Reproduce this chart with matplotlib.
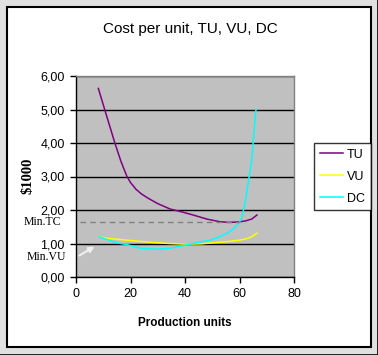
import matplotlib
matplotlib.use("Agg")
import matplotlib.pyplot as plt
from matplotlib.patches import Rectangle
from matplotlib.lines import Line2D

# ---- data ----
tu_x = [8.2, 10.6, 14.3, 16.5, 18.6, 20, 22, 24, 26.5, 30, 34.5, 39, 43, 48, 52.8, 56, 59, 62, 64.5, 66.4]
tu_y = [5.63, 4.98, 3.99, 3.45, 3.02, 2.82, 2.62, 2.48, 2.35, 2.19, 2.03, 1.94, 1.85, 1.73, 1.65, 1.63, 1.64, 1.67, 1.73, 1.85]

vu_x = [8.4, 12, 18.6, 24, 28.4, 34, 40.6, 46, 51.6, 56, 60, 62.5, 64.5, 66.4]
vu_y = [1.2, 1.15, 1.1, 1.06, 1.03, 1.0, 0.98, 0.99, 1.03, 1.06, 1.1, 1.14, 1.2, 1.31]

dc_x = [8.4, 12, 15, 18.6, 23.5, 29.7, 34.5, 39, 43, 46, 49.2, 52, 55.3, 58, 60, 60.8, 62, 63.2, 64.5, 65.3, 66, 66.2]
dc_y = [1.2, 1.1, 1.02, 0.97, 0.86, 0.83, 0.86, 0.93, 1.0, 1.05, 1.1, 1.18, 1.3, 1.45, 1.64, 1.75, 2.2, 2.8, 3.5, 4.29, 4.98, 5.0]

min_tc = 1.63
min_tc_span = [1.5, 60]

y_ticks = [0, 1, 2, 3, 4, 5, 6]
y_labels = ["0,00", "1,00", "2,00", "3,00", "4,00", "5,00", "6,00"]
x_ticks = [0, 20, 40, 60, 80]

series_names = ["TU", "VU", "DC"]
series_colors = ["#800080", "#FFFF00", "#00FFFF"]

W, H = 378, 355
fig = plt.figure(figsize=(W / 100, H / 100), dpi=100)
fig.patch.set_facecolor("white")

def px_rect(x0, y0, x1, y1, **kw):
    # rectangle in pixel coords (top-left origin)
    return Rectangle((x0 / W, 1 - y1 / H), (x1 - x0) / W, (y1 - y0) / H,
                     transform=fig.transFigure, **kw)

# Outer frame: light gray band + black lines
fig.patches.append(px_rect(0, 0, W, H, facecolor="#E0E0E0", edgecolor="none", zorder=-10))
fig.patches.append(px_rect(7, 7, 371, 347, facecolor="white", edgecolor="black", linewidth=1.5, zorder=-9))
fig.lines.append(Line2D([0, 1], [0.5 / H, 0.5 / H], transform=fig.transFigure, color="black", lw=1.2))
fig.lines.append(Line2D([1 - 0.5 / W, 1 - 0.5 / W], [0, 1], transform=fig.transFigure, color="black", lw=1.2))

ax = fig.add_axes([76 / W, 1 - 277 / H, (294 - 76) / W, (277 - 76) / H])
ax.set_facecolor("#C0C0C0")
ax.set_xlim(0, 80)
ax.set_ylim(0, 6)
ax.set_yticks(y_ticks)
ax.set_yticklabels(y_labels)
ax.set_xticks(x_ticks)
ax.yaxis.grid(True, color="black", linewidth=1.0)
ax.set_axisbelow(True)
for s in ["top", "right"]:
    ax.spines[s].set_color("#808080")
    ax.spines[s].set_linewidth(1.0)
for s in ["left", "bottom"]:
    ax.spines[s].set_color("black")
    ax.spines[s].set_linewidth(1.0)
ax.tick_params(axis="both", direction="out", length=4, width=1, labelsize=9, pad=4,
               labelfontfamily="Liberation Sans")

for xs, ys, name, col in zip([tu_x, vu_x, dc_x], [tu_y, vu_y, dc_y], series_names, series_colors):
    ax.plot(xs, ys, color=col, lw=1.1, label=name)

ax.plot(min_tc_span, [min_tc, min_tc], color="#808080", lw=1.0, ls=(0, (4, 3)))

ax.annotate("", xy=(7.7, 0.95), xytext=(0.4, 0.6),
            arrowprops=dict(arrowstyle="-|>", color="#F0F0F0", lw=1.5, mutation_scale=8),
            annotation_clip=False)

fig.text(190 / W, 1 - 29.5 / H, "Cost per unit, TU, VU, DC", ha="center", va="center",
         fontsize=11, family="Liberation Sans")
fig.text(185 / W, 1 - 322.5 / H, "Production units", ha="center", va="center",
         fontsize=8.5, fontweight="bold", family="Liberation Sans")
fig.text(28 / W, 1 - 176 / H, "$1000", ha="center", va="center", rotation=90,
         fontsize=10.5, fontweight="bold", family="Liberation Serif")
fig.text(42 / W, 1 - 222 / H, "Min.TC", ha="center", va="center",
         fontsize=8.5, family="Liberation Serif")
fig.text(46 / W, 1 - 257 / H, "Min.VU", ha="center", va="center",
         fontsize=8.5, family="Liberation Serif")

leg = ax.legend(loc="upper left", bbox_to_anchor=(314 / W, 1 - 143 / H),
                bbox_transform=fig.transFigure, frameon=True, fancybox=False,
                prop={"family": "Liberation Sans", "size": 9},
                handlelength=1.9, handletextpad=0.3, labelspacing=0.8,
                borderpad=0.45, borderaxespad=0)
leg.get_frame().set_edgecolor("black")
leg.get_frame().set_linewidth(1.0)

fig.savefig("out.png", dpi=100)
